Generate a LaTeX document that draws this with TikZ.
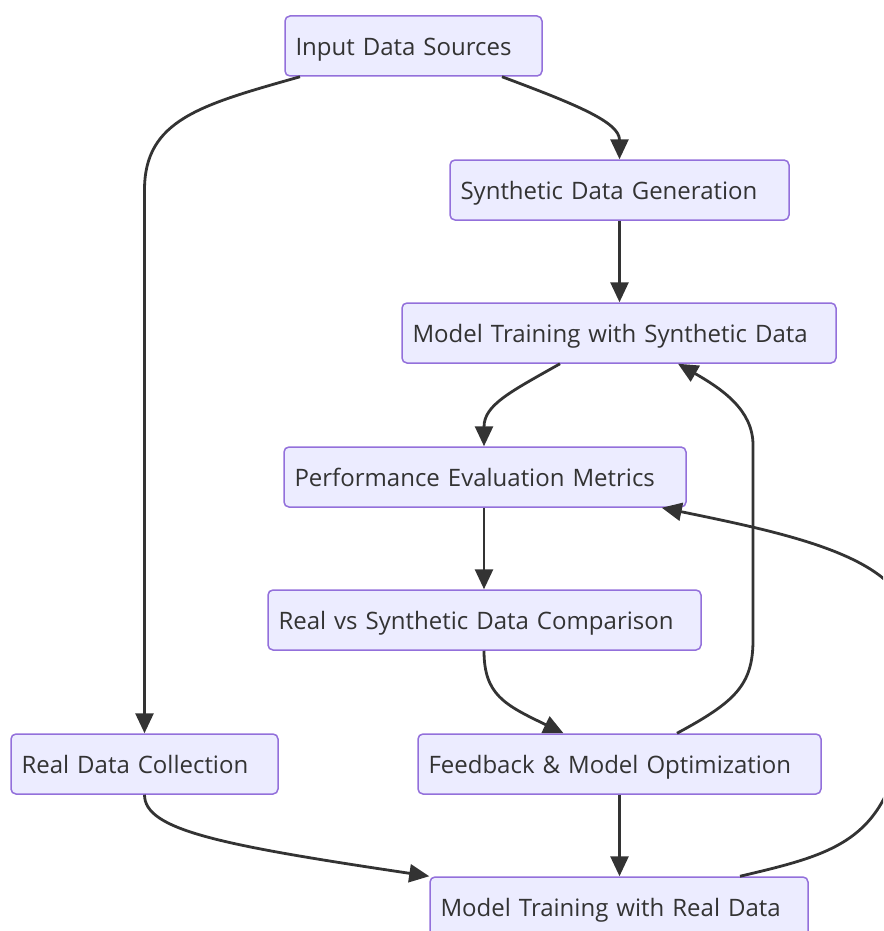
\documentclass[tikz,border=0pt]{standalone}
\usepackage{fontspec}
\setmainfont{Open Sans}
\usetikzlibrary{arrows.meta,calc}
\definecolor{nodefill}{HTML}{ECECFF}
\definecolor{nodeline}{HTML}{9370DB}
\definecolor{edgecol}{HTML}{333333}
\definecolor{txt}{HTML}{333333}
\begin{document}
\begin{tikzpicture}[x=1pt,y=-1pt,
 box/.style={draw=nodeline, fill=nodefill, line width=1.5pt, rounded corners=5pt,
   minimum height=60pt, inner xsep=10.5pt, inner ysep=0pt, text=txt,
   font=\fontsize{24}{29}\selectfont, align=left, text height=19.5pt, text depth=0pt},
 link/.style={draw=edgecol, line width=2.8pt, -{Triangle[length=20pt,width=18pt]}},
]
\useasboundingbox (0,0) rectangle (883,931);
\clip (0,0) rectangle (883,931);

\node[box, text width=236pt] (n1) at (413.5,46) {Input Data Sources};
\node[box, text width=318pt] (n2) at (619.5,190) {Synthetic Data Generation};
\node[box, text width=413pt] (n3) at (619,333) {Model Training with Synthetic Data};
\node[box, text width=381pt] (n4) at (485,477) {Performance Evaluation Metrics};
\node[box, text width=412pt] (n5) at (484.5,620) {Real vs Synthetic Data Comparison};
\node[box, text width=246pt] (n6) at (144.5,764) {Real Data Collection};
\node[box, text width=382pt] (n7) at (619.5,764) {Feedback \& Model Optimization};
\node[box, text width=357pt] (n8) at (619,907) {Model Training with Real Data};

\draw[link] ([xshift=88.5pt]n1.south) .. controls (575,104) and (619.5,122) .. (n2.north);
\draw[link] ([xshift=-113.5pt]n1.south) .. controls (200,105) and (144.5,120) .. (144.5,190) -- (n6.north);
\draw[link] (n2.south) -- (n2.south |- n3.north);
\draw[link] ([xshift=-59pt]n3.south) .. controls (510,392) and (484,405) .. ([xshift=-1pt]n4.north);
\draw[link] ([xshift=-1pt]n4.south) -- ([xshift=-1pt]n4.south |- n5.north);
\draw[link] ([xshift=-0.5pt]n5.south) .. controls (484,695) and (505,705) .. ([xshift=-56pt]n7.north);
\draw[link] ([xshift=57.5pt]n7.north) .. controls (735,702) and (753,685) .. (753,640) -- (753,445)
   .. controls (753,410) and (722,389) .. ([xshift=59pt]n3.south);
\draw[link] (n6.south) .. controls (144.5,830) and (220,845) .. (n8.north west);
\draw[link] (n7.south) -- (n7.south |- n8.north);
\draw[link] ([xshift=121pt]n8.north) .. controls (860,848) and (910,835) .. (910,630)
   .. controls (910,560) and (800,536) .. ([xshift=-25pt]n4.south east);
\end{tikzpicture}
\end{document}
